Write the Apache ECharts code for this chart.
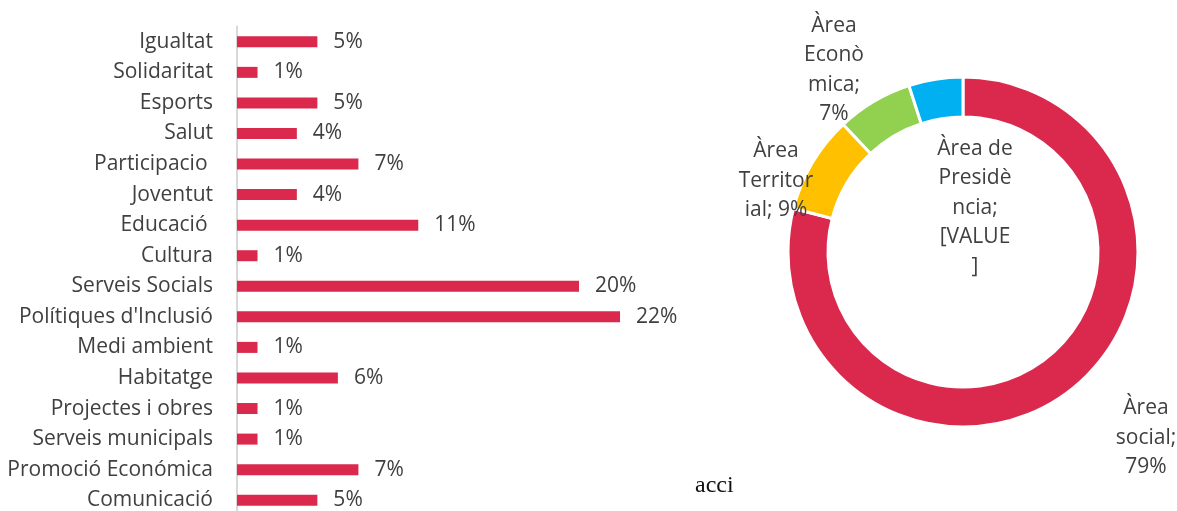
<!DOCTYPE html>
<html>
<head>
<meta charset="utf-8">
<script src="https://cdn.jsdelivr.net/npm/echarts@6/dist/echarts.min.js"></script>
<style>
  html, body { margin: 0; padding: 0; background: #fff; }
  #chart { width: 1177px; height: 511px; }
</style>
</head>
<body>
<div id="chart"></div>
<script>
// categories del gràfic de barres (de dalt a baix)
var categories = ['Igualtat', 'Solidaritat', 'Esports', 'Salut', 'Participacio ', 'Joventut', 'Educació ',
  'Cultura', 'Serveis Socials', "Polítiques d'Inclusió", 'Medi ambient', 'Habitatge',
  'Projectes i obres', 'Serveis municipals', 'Promoció Económica', 'Comunicació'];
// percentatges (aprox.)
var barValues = [4.7, 1.2, 4.7, 3.5, 7.1, 3.5, 10.6, 1.2, 20.0, 22.4, 1.2, 5.9, 1.2, 1.2, 7.1, 4.7];

// donut per àrees
var pieNames = ['Àrea social', 'Àrea Territorial', 'Àrea Econòmica', 'Àrea de Presidència'];
var pieValues = [79, 9, 7, 5];
var pieLabels = ['Àrea\nsocial;\n79%', 'Àrea\nTerritor\nial; 9%', 'Àrea\nEconò\nmica;\n7%', 'Àrea de\nPresidè\nncia;\n[VALUE\n]'];
var pieColors = ['#DA294D', '#FFC000', '#92D050', '#00B0F0'];

var font = '"Open Sans", "Liberation Sans", sans-serif';
var textColor = '#404040';
var labelPos = [[1146, 438], [776, 181], [834, 70], [975, 208]];

var chart = echarts.init(document.getElementById('chart'));
chart.setOption({
  animation: false,
  textStyle: { fontFamily: font },
  grid: { left: 237, top: 26.5, width: 513, height: 489, outerBoundsMode: 'none', containLabel: false },
  xAxis: {
    type: 'value', min: 0, max: 30,
    show: false
  },
  yAxis: {
    type: 'category',
    data: categories,
    inverse: true,
    axisLine: { show: true, lineStyle: { color: '#D9D9D9', width: 2 } },
    axisTick: { show: false },
    axisLabel: { margin: 24, fontSize: 21, color: textColor, fontFamily: font }
  },
  graphic: [{
    type: 'text', left: 695, top: 474,
    style: { text: 'acci', font: '24px "Liberation Serif", serif', fill: '#111' }
  }],
  series: [{
    type: 'bar',
    data: barValues,
    barWidth: 11,
    itemStyle: { color: '#DA294D' },
    label: {
      show: true, position: 'right', distance: 16,
      fontSize: 21, color: textColor, fontFamily: font,
      formatter: function (p) { return Math.round(p.value) + '%'; }
    }
  }, {
    type: 'pie',
    center: [963, 252],
    radius: [135, 175],
    startAngle: 90,
    clockwise: true,
    data: pieNames.map(function (n, i) {
      return { name: n, value: pieValues[i], itemStyle: { color: pieColors[i] } };
    }),
    itemStyle: { borderColor: '#fff', borderWidth: 3 },
    label: {
      show: true, position: 'inner', overflow: 'none',
      fontSize: 21, lineHeight: 29.5, color: textColor, fontFamily: font, align: 'center',
      formatter: function (p) { return pieLabels[p.dataIndex]; }
    },
    labelLine: { show: false },
    labelLayout: function (p) {
      var pos = labelPos[p.dataIndex];
      return { x: pos[0], y: pos[1], align: 'center', verticalAlign: 'middle' };
    },
    emphasis: { disabled: true }
  }]
});
</script>
</body>
</html>
